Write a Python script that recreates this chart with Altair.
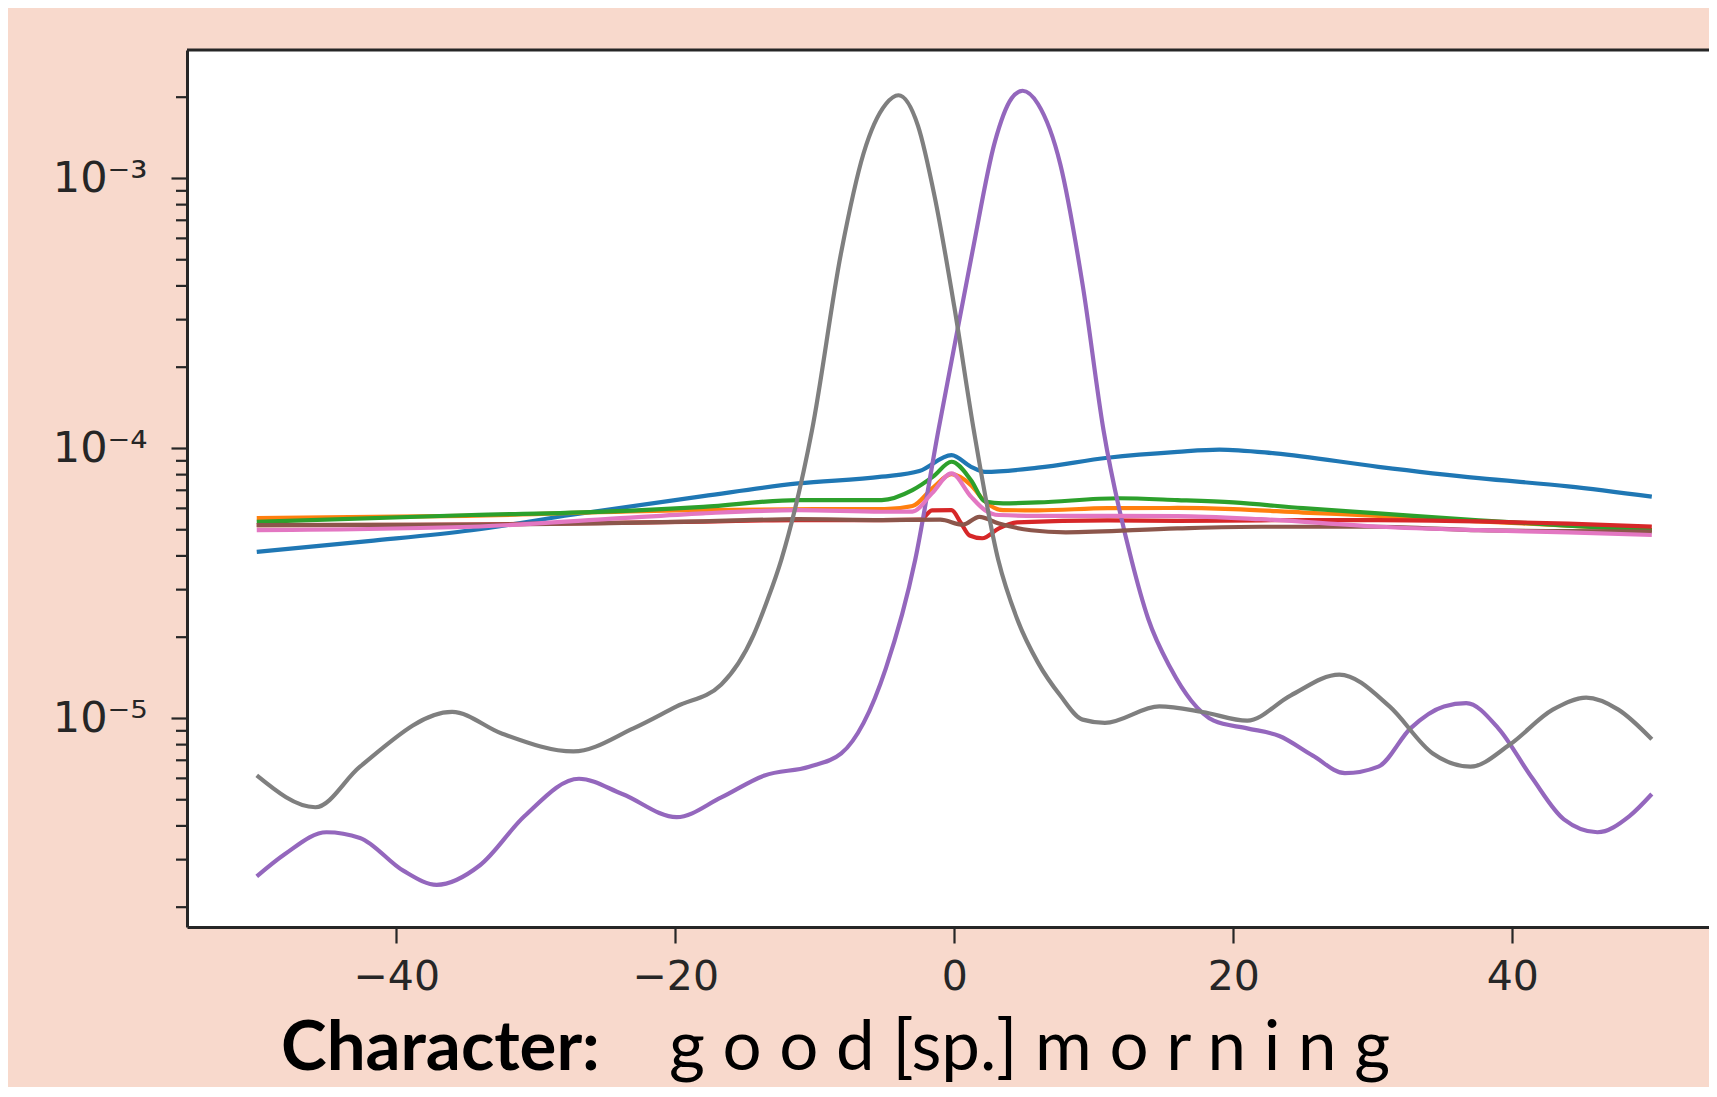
import altair as alt
import pandas as pd

# ---------------- data ----------------
names = ["line 1", "line 2", "line 3", "line 4", "line 5", "line 6", "line 7", "line 8"]
colors = ["#1f77b4", "#ff7f0e", "#2ca02c", "#d62728", "#9467bd", "#8c564b", "#e377c2", "#7f7f7f"]

blue_x = [-50, -42, -34.6, -27.4, -18, -11.2, -5.2, -2.5, -0.2, 1.2, 2.2, 6, 11, 16, 19, 23, 30.4, 37.6, 44, 50]
blue_y = [4.14e-5, 4.54e-5, 4.98e-5, 5.68e-5, 6.66e-5, 7.42e-5, 7.86e-5, 8.25e-5, 9.45e-5, 8.55e-5,
          8.19e-5, 8.49e-5, 9.24e-5, 9.72e-5, 9.91e-5, 9.59e-5, 8.55e-5, 7.76e-5, 7.24e-5, 6.63e-5]

orange_x = [-50, -35, -20, -10, -5, -3, -1.5, -0.2, 1.2, 2.2, 3.5, 6, 11, 16, 20, 25, 30.4, 37.6, 44, 50]
orange_y = [5.52e-5, 5.63e-5, 5.90e-5, 5.96e-5, 5.96e-5, 6.12e-5, 7.18e-5, 8.03e-5, 7.31e-5, 6.36e-5,
            5.91e-5, 5.90e-5, 6.01e-5, 6.02e-5, 5.96e-5, 5.79e-5, 5.63e-5, 5.37e-5, 5.18e-5, 4.98e-5]

green_x = [-50, -34.6, -25, -18, -11.2, -5.2, -3, -1.5, -0.2, 1.2, 2.2, 3.5, 6, 11.8, 16, 20, 25, 30.4, 37.6, 44, 50]
green_y = [5.35e-5, 5.67e-5, 5.84e-5, 6.08e-5, 6.44e-5, 6.44e-5, 7.01e-5, 7.88e-5, 8.93e-5, 7.63e-5, 6.36e-5,
           6.26e-5, 6.31e-5, 6.54e-5, 6.44e-5, 6.31e-5, 6.01e-5, 5.75e-5, 5.42e-5, 5.18e-5, 4.98e-5]

red_x = [-50, -35, -18, -11.2, -5.2, -2.4, -1.6, -0.2, 0.5, 1.1, 2.0, 3.2, 4.5, 11, 16, 22, 30.4, 37.6, 44, 50]
red_y = [5.20e-5, 5.22e-5, 5.36e-5, 5.43e-5, 5.43e-5, 5.45e-5, 5.90e-5, 5.91e-5, 5.27e-5, 4.76e-5,
         4.65e-5, 5.06e-5, 5.32e-5, 5.42e-5, 5.39e-5, 5.42e-5, 5.43e-5, 5.37e-5, 5.27e-5, 5.13e-5]

purple_x = [-50, -48, -45, -42.6, -39.5, -37.1, -34, -30.8, -26.9, -23.8, -19.9, -16.7, -13.6, -10.4,
            -8.1, -6.5, -4.9, -2.8, -1.14, -0.2, 1.3, 2.9, 4.1, 4.9, 6, 7.6, 9.2, 10.7, 12.7, 13.9,
            15.5, 17, 18.6, 21, 23.3, 25.7, 28, 30.4, 32.7, 35.1, 36.7, 39, 41.4, 43.7, 46.1, 48.4, 50]
purple_y = [2.60e-6, 3.14e-6, 3.79e-6, 3.61e-6, 2.73e-6, 2.42e-6, 2.86e-6, 4.35e-6, 5.98e-6, 5.25e-6,
            4.31e-6, 5.10e-6, 6.15e-6, 6.63e-6, 7.42e-6, 9.63e-6, 1.537e-5, 3.87e-5, 1.167e-4, 2.10e-4,
            5.35e-4, 1.361e-3, 1.977e-3, 2.113e-3, 1.887e-3, 1.129e-3, 4.04e-4, 1.167e-4, 3.87e-5,
            2.34e-5, 1.537e-5, 1.161e-5, 9.81e-6, 9.19e-6, 8.61e-6, 7.28e-6, 6.27e-6, 6.63e-6, 9.19e-6,
            1.108e-5, 1.140e-5, 9.19e-6, 6.04e-6, 4.23e-6, 3.79e-6, 4.35e-6, 5.25e-6]

brown_x = [-50, -35, -18, -11.2, -5.2, -1, 0.6, 1.8, 3.2, 5.5, 8, 16, 22, 30.4, 37.6, 44, 50]
brown_y = [5.20e-5, 5.22e-5, 5.37e-5, 5.47e-5, 5.43e-5, 5.45e-5, 5.22e-5, 5.58e-5, 5.27e-5, 4.98e-5,
           4.89e-5, 5.06e-5, 5.13e-5, 5.13e-5, 4.98e-5, 4.94e-5, 4.92e-5]

pink_x = [-50, -34.6, -25, -18, -11.2, -5.2, -3, -1.6, -0.2, 1.2, 2.2, 3.2, 6, 11, 16, 22, 30.4, 37.6, 44, 50]
pink_y = [4.98e-5, 5.13e-5, 5.47e-5, 5.75e-5, 5.91e-5, 5.83e-5, 5.84e-5, 6.82e-5, 8.08e-5, 6.63e-5,
          5.91e-5, 5.67e-5, 5.63e-5, 5.63e-5, 5.62e-5, 5.47e-5, 5.13e-5, 4.98e-5, 4.89e-5, 4.78e-5]

gray_x = [-50, -45.8, -42.6, -36, -32.4, -27.3, -23, -19.9, -16.7, -14.4, -13.4, -12.4, -10.2, -8.1,
          -6.5, -4.9, -4, -2.6, -1.4, 0, 1.4, 3.15, 4.5, 6, 7.6, 9.2, 10.8, 14.7, 17.8, 21, 24.1,
          27.6, 31.2, 34.3, 37, 39.8, 42.9, 45.3, 47.6, 50]
gray_y = [6.15e-6, 4.69e-6, 6.63e-6, 1.057e-5, 8.78e-6, 7.55e-6, 9.19e-6, 1.108e-5, 1.336e-5, 2.03e-5,
          2.74e-5, 3.87e-5, 1.167e-4, 5.35e-4, 1.240e-3, 1.887e-3, 2.033e-3, 1.566e-3, 8.53e-4, 3.35e-4,
          1.167e-4, 3.87e-5, 2.34e-5, 1.61e-5, 1.216e-5, 9.9e-6, 9.63e-6, 1.108e-5, 1.057e-5, 9.81e-6,
          1.216e-5, 1.453e-5, 1.108e-5, 7.42e-6, 6.63e-6, 7.99e-6, 1.078e-5, 1.194e-5, 1.078e-5, 8.37e-6]

x_ticks = [-40, -20, 0, 20, 40]
y_major = [1e-5, 1e-4, 1e-3]
x_domain = [-55, 54.1]
y_domain = [1.689e-6, 2.991e-3]
title_bold = "Character:"
title_rest = "g o o d [sp.] m o r n i n g"

# ---------------- build table ----------------
all_x = [blue_x, orange_x, green_x, red_x, purple_x, brown_x, pink_x, gray_x]
all_y = [blue_y, orange_y, green_y, red_y, purple_y, brown_y, pink_y, gray_y]
rows = []
for name, xs, ys in zip(names, all_x, all_y):
    for xv, yv in zip(xs, ys):
        rows.append({"series": name, "x": xv, "y": yv})
df = pd.DataFrame(rows)

y_minor = [m * 10.0 ** e for e in range(-6, -2) for m in range(2, 10)
           if y_domain[0] <= m * 10.0 ** e <= y_domain[1]]
minor_df = pd.DataFrame({"y": y_minor})

W, H = 1522, 877
INK = "#262626"

xscale = alt.Scale(domain=x_domain, nice=False, zero=False)
yscale = alt.Scale(type="log", domain=y_domain, nice=False)

y_label_expr = ("datum.value > 9.9e-4 && datum.value < 1.01e-3 ? '10\u207b\u00b3' : "
                "datum.value > 9.9e-5 && datum.value < 1.01e-4 ? '10\u207b\u2074' : "
                "datum.value > 9.9e-6 && datum.value < 1.01e-5 ? '10\u207b\u2075' : ''")

y_axis = alt.Axis(values=y_major, labelExpr=y_label_expr, tickSize=16, tickWidth=2.2,
                  tickColor=INK, domainColor=INK, domainWidth=3, labelFont="DejaVu Sans",
                  labelFontSize=43, labelColor=INK, labelPadding=24, labelOverlap=False,
                  labelFlush=False, grid=False, title=None)
x_axis = alt.Axis(values=x_ticks,
                  labelExpr="datum.value < 0 ? '\u2212' + abs(datum.value) : '' + datum.value",
                  tickSize=16, tickWidth=2.2, tickColor=INK, domainColor=INK, domainWidth=3,
                  labelFont="DejaVu Sans", labelFontSize=41, labelColor=INK, labelPadding=14,
                  labelFlush=False, grid=False, title=None)

lines = alt.Chart(df).mark_line(strokeWidth=4.2, interpolate="monotone", clip=True,
                                strokeJoin="round").encode(
    x=alt.X("x:Q", scale=xscale, axis=x_axis),
    y=alt.Y("y:Q", scale=yscale, axis=y_axis),
    color=alt.Color("series:N", scale=alt.Scale(domain=names, range=colors), legend=None),
)

minor_ticks = alt.Chart(minor_df).mark_rule(color=INK, strokeWidth=2.2).encode(
    x=alt.value(-11), x2=alt.value(0),
    y=alt.Y("y:Q", scale=yscale, axis=y_axis),
)

top_border = alt.Chart(pd.DataFrame({"a": [0]})).mark_rule(color=INK, strokeWidth=3).encode(
    x=alt.value(0), x2=alt.value(W), y=alt.value(0)
)

t1 = alt.Chart(pd.DataFrame({"t": [title_bold]})).mark_text(
    align="left", baseline="alphabetic", font="Lato", fontSize=69, fontWeight="bold",
    color="black").encode(text="t:N", x=alt.value(94), y=alt.value(1020))
t2 = alt.Chart(pd.DataFrame({"t": [title_rest]})).mark_text(
    align="left", baseline="alphabetic", font="Lato", fontSize=69, fontWeight="normal",
    color="black").encode(text="t:N", x=alt.value(482), y=alt.value(1020))

chart = alt.layer(lines, minor_ticks, top_border, t1, t2).properties(
    width=W, height=H,
    autosize=alt.AutoSizeParams(type="none"),
    padding={"left": 179, "top": 42, "right": 0, "bottom": 160},
    background="#F8D9CC",
).configure_view(fill="white", strokeWidth=0)

chart.save("out.html", embed_options={"renderer": "svg", "actions": False})
